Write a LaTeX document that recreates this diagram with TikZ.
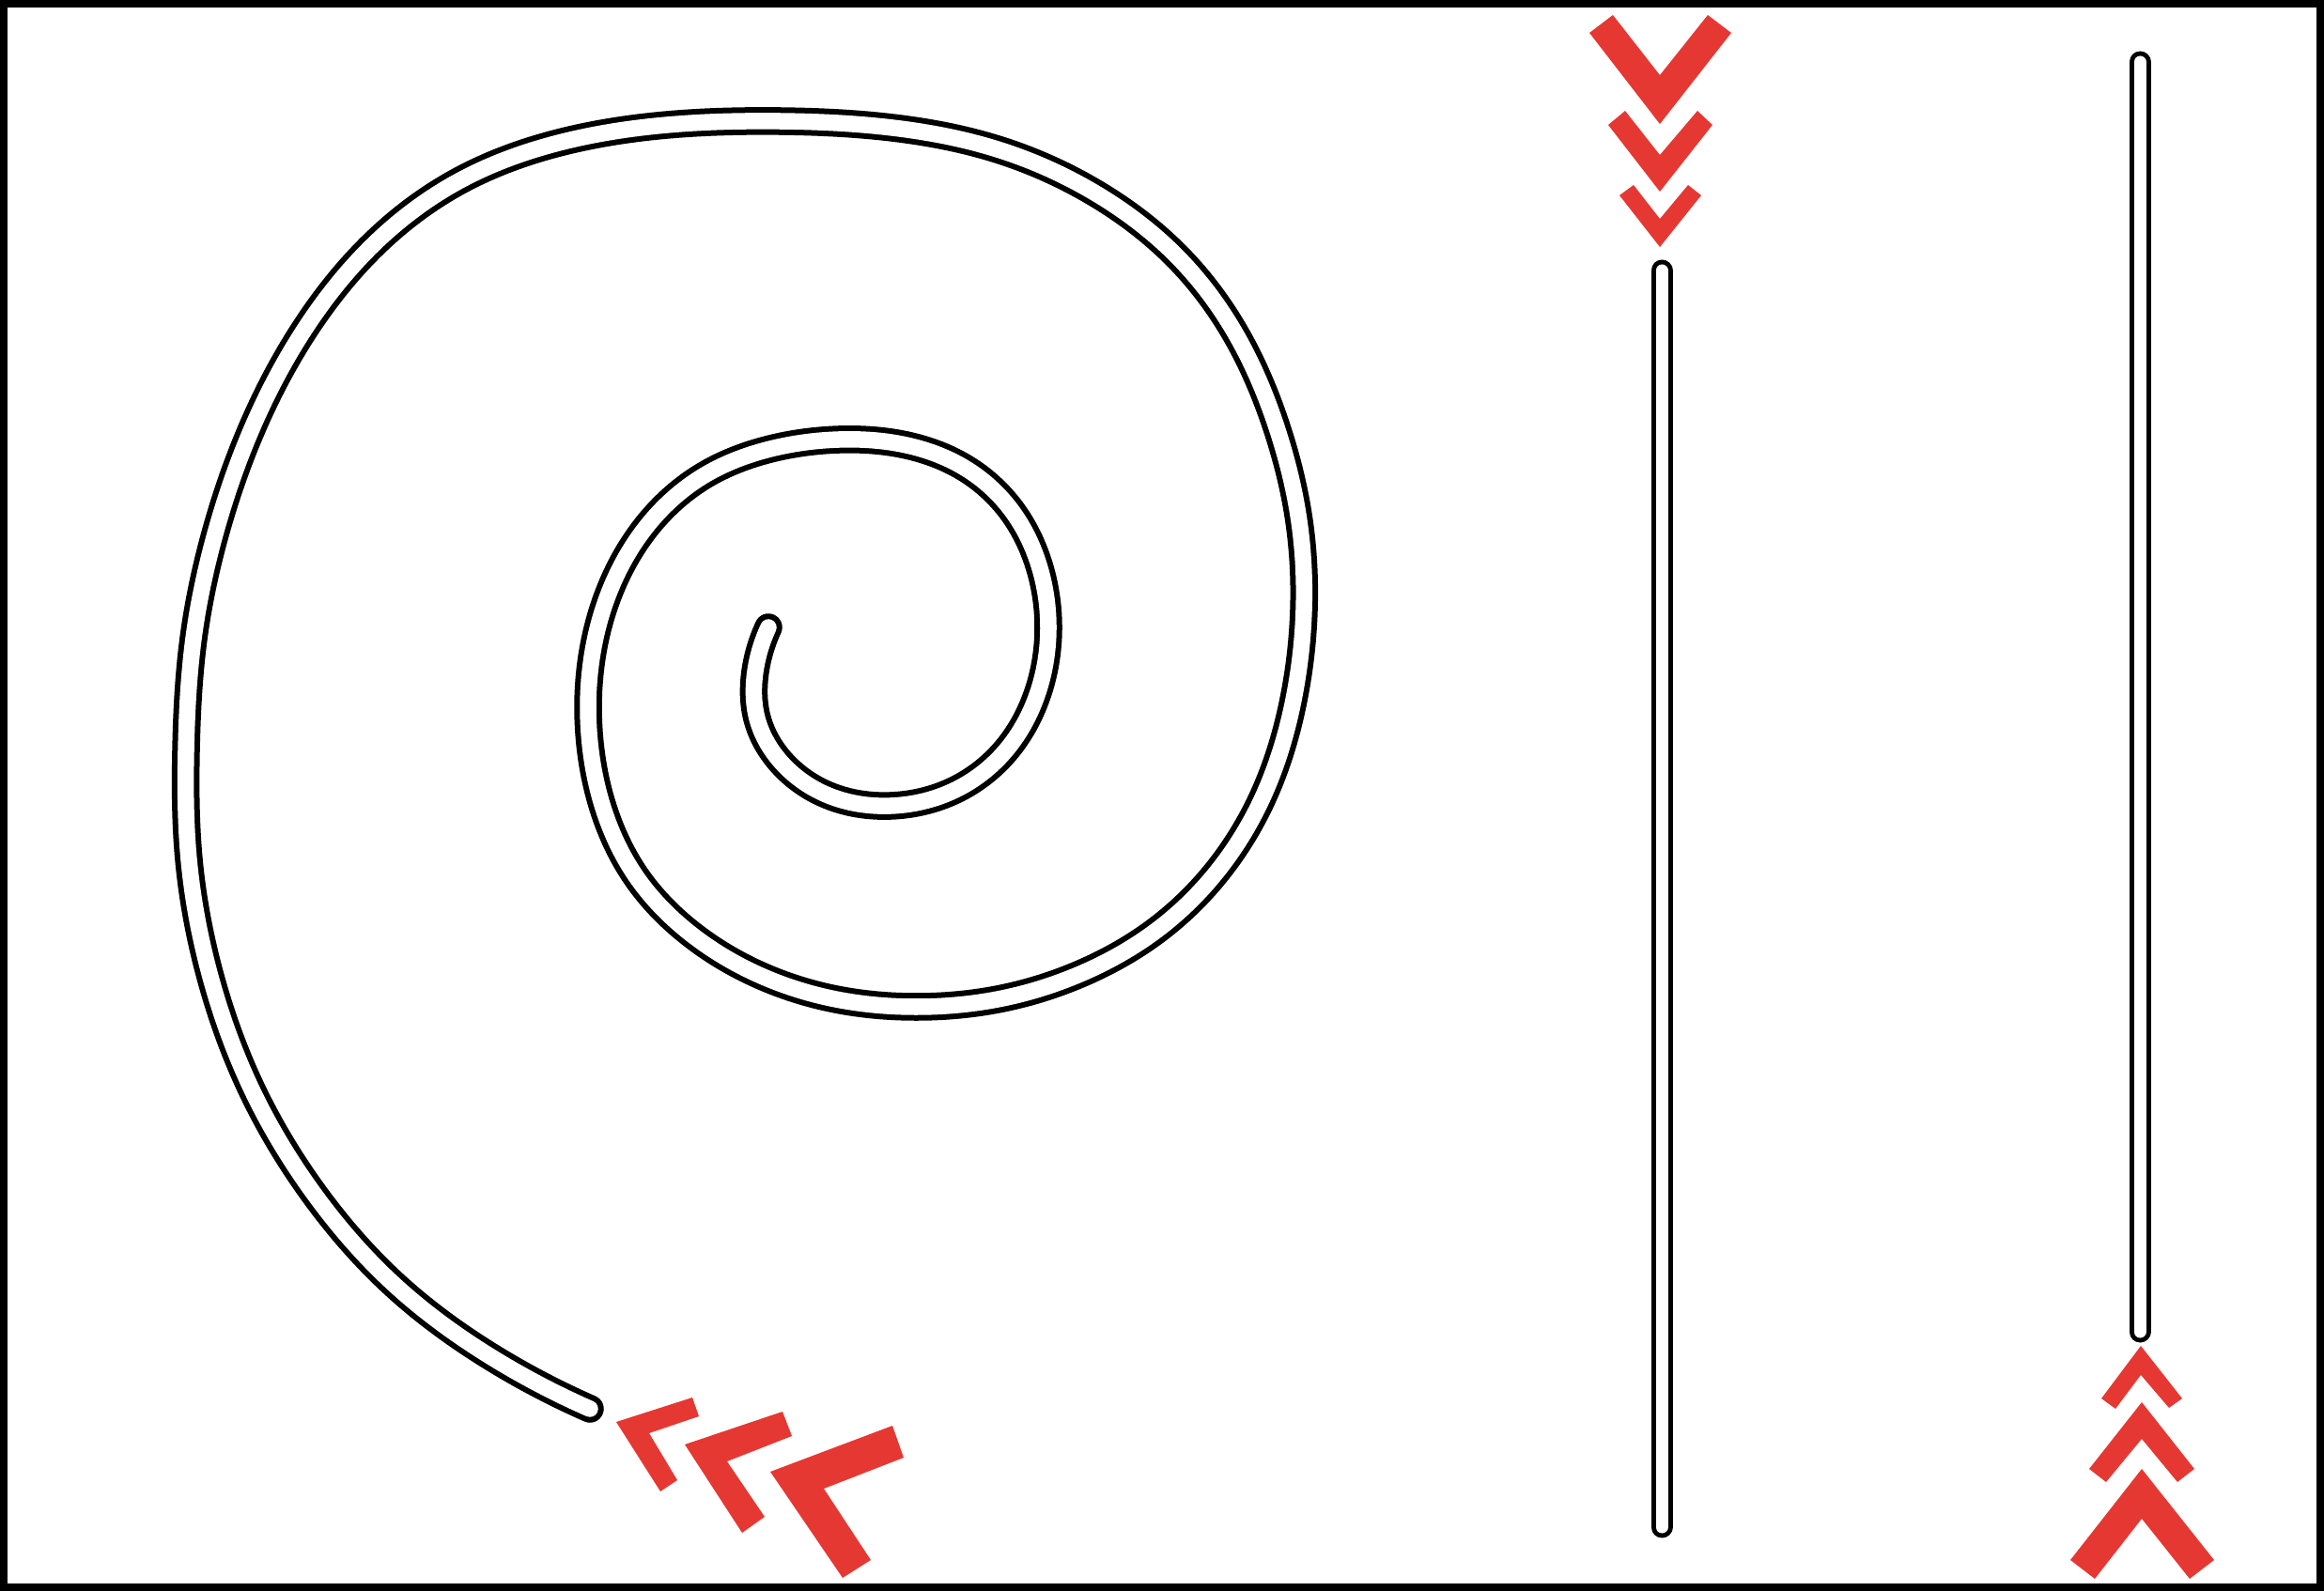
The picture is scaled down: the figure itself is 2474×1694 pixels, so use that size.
\documentclass[tikz,border=0pt]{standalone}
\usetikzlibrary{hobby}
\definecolor{chev}{RGB}{230,56,50}
\begin{document}
\begin{tikzpicture}[x=0.01cm,y=-0.01cm,
  tube/.style={line width=0.06cm, double=white, double distance=0.175cm, line cap=round, line join=round},
  stube/.style={line width=0.05cm, double=white, double distance=0.13cm, line cap=round},
  chevron/.style={fill=chev, draw=none}]
\useasboundingbox (0,0) rectangle (2474,1694);
\draw[line width=0.08cm] (4,4) rectangle (2470,1690);
% spiral tube
\draw[tube, use Hobby shortcut] (628,1500) .. (520,1443) .. (420,1368) .. (335,1272) .. (268,1160) .. (224,1040) .. (201,915) .. (198,800) .. (206,680) .. (230,565) .. (270,452) .. (326,348) .. (400,258) .. (490,192) .. (595,152) .. (710,133) .. (830,129) .. (950,136) .. (1065,160) .. (1170,208) .. (1255,275) .. (1318,360) .. (1360,458) .. (1383,555) .. (1388,650) .. (1376,750) .. (1346,845) .. (1298,925) .. (1232,990) .. (1150,1037) .. (1062,1064) .. (975,1072) .. (890,1064) .. (808,1038) .. (735,994) .. (677,933) .. (642,860) .. (627,780) .. (630,700) .. (652,622) .. (692,556) .. (750,506) .. (820,478) .. (893,468) .. (965,474) .. (1030,500) .. (1078,545) .. (1107,605) .. (1116,670) .. (1104,740) .. (1070,800) .. (1015,842) .. (948,858) .. (882,847) .. (832,812) .. (806,765) .. (804,715) .. (818,668);
% straight tubes
\coordinate (a1) at (1769,288);
\coordinate (a2) at (1769,1626);
\coordinate (b1) at (2278,66);
\coordinate (b2) at (2278,1418);
\draw[stube] (a1) -- (a2);
\draw[stube] (b1) -- (b2);
% top chevrons
\fill[chevron] (1692,35) -- (1767,132) -- (1843,35) -- (1818,16) -- (1767,80) -- (1717,16) -- cycle;
\fill[chevron] (1712,133) -- (1767,204) -- (1823,133) -- (1807,118) -- (1767,165) -- (1730,118) -- cycle;
\fill[chevron] (1724,208) -- (1767,263) -- (1811,208) -- (1797,197) -- (1767,233) -- (1739,197) -- cycle;
% bottom-right chevrons
\fill[chevron] (2237,1489) -- (2279,1433) -- (2323,1489) -- (2309,1499) -- (2279,1464) -- (2252,1500) -- cycle;
\fill[chevron] (2224,1564) -- (2280,1493) -- (2336,1564) -- (2318,1578) -- (2280,1532) -- (2242,1578) -- cycle;
\fill[chevron] (2204,1661) -- (2280,1564) -- (2357,1661) -- (2331,1681) -- (2280,1617) -- (2230,1681) -- cycle;
% bottom-left chevrons
\fill[chevron] (656,1514) -- (737,1488) -- (744,1508) -- (691,1526) -- (721,1576) -- (703,1588) -- cycle;
\fill[chevron] (729,1538) -- (833,1503) -- (843,1529) -- (774,1556) -- (814,1615) -- (790,1632) -- cycle;
\fill[chevron] (820,1567) -- (950,1518) -- (962,1552) -- (877,1585) -- (927,1661) -- (897,1680) -- cycle;
\end{tikzpicture}
\end{document}
